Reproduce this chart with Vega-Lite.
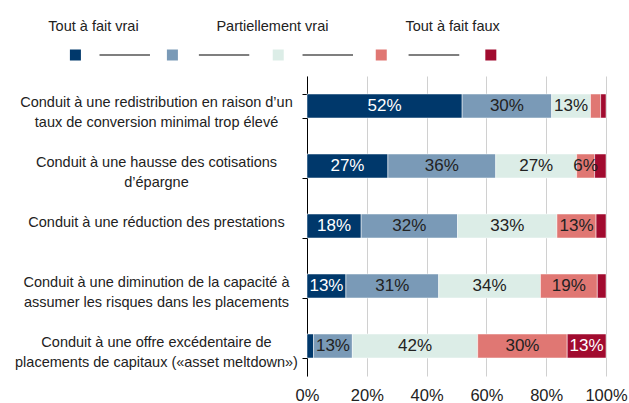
{
  "$schema": "https://vega.github.io/schema/vega-lite/v6.json",
  "padding": {"top": 19, "left": 14, "right": 2, "bottom": 0},
  "spacing": 3,
  "config": {"view": {"stroke": null}, "font": "Liberation Sans"},
  "vconcat": [
    {
      "width": 299,
      "height": 28,
      "layer": [
        {
          "data": {"values": [
            {"t": "Tout à fait vrai", "p": 1.174, "r": 1},
            {"t": "Partiellement vrai", "p": 2.897, "r": 1},
            {"t": "Tout à fait faux", "p": 4.632, "r": 1}
          ]},
          "mark": {"type": "text", "font": "Liberation Sans", "fontSize": 14.5, "fontWeight": "normal", "color": "#222", "baseline": "middle", "align": "center"},
          "encoding": {
            "x": {"field": "p", "type": "quantitative", "scale": {"domain": [3.23, 6.109], "nice": false, "zero": false}, "axis": null},
            "y": {"field": "r", "type": "quantitative", "scale": {"domain": [0, 1], "nice": false}, "axis": null},
            "text": {"field": "t"}
          }
        },
        {
          "data": {"values": [
            {"a": 1.232, "b": 1.718, "r": 0},
            {"a": 2.189, "b": 2.674, "r": 0},
            {"a": 3.187, "b": 3.673, "r": 0},
            {"a": 4.208, "b": 4.696, "r": 0}
          ]},
          "mark": {"type": "rule", "color": "#555555", "strokeWidth": 1.6},
          "encoding": {
            "x": {"field": "a", "type": "quantitative", "axis": null},
            "x2": {"field": "b"},
            "y": {"field": "r", "type": "quantitative", "axis": null}
          }
        },
        {
          "data": {"values": [
            {"k": 1, "p": 1.0, "r": 0},
            {"k": 2, "p": 1.934, "r": 0},
            {"k": 3, "p": 2.953, "r": 0},
            {"k": 4, "p": 3.945, "r": 0},
            {"k": 5, "p": 5.0, "r": 0}
          ]},
          "mark": {"type": "square", "size": 121, "filled": true, "opacity": 1},
          "encoding": {
            "x": {"field": "p", "type": "quantitative", "axis": null},
            "y": {"field": "r", "type": "quantitative", "axis": null},
            "color": {"field": "k", "type": "nominal", "scale": {"domain": [1, 2, 3, 4, 5], "range": ["#00386B", "#7A9AB7", "#DCEDE7", "#E07773", "#A10B2F"]}, "legend": null}
          }
        }
      ]
    },
    {
      "width": 299,
      "height": 300,
      "data": {"values": [
        {"q": "Conduit à une redistribution en raison d’un|taux de conversion minimal trop élevé", "k": 1, "v": 0.52},
        {"q": "Conduit à une redistribution en raison d’un|taux de conversion minimal trop élevé", "k": 2, "v": 0.30},
        {"q": "Conduit à une redistribution en raison d’un|taux de conversion minimal trop élevé", "k": 3, "v": 0.13},
        {"q": "Conduit à une redistribution en raison d’un|taux de conversion minimal trop élevé", "k": 4, "v": 0.034},
        {"q": "Conduit à une redistribution en raison d’un|taux de conversion minimal trop élevé", "k": 5, "v": 0.018},
        {"q": "Conduit à une hausse des cotisations|d’épargne", "k": 1, "v": 0.27},
        {"q": "Conduit à une hausse des cotisations|d’épargne", "k": 2, "v": 0.36},
        {"q": "Conduit à une hausse des cotisations|d’épargne", "k": 3, "v": 0.27},
        {"q": "Conduit à une hausse des cotisations|d’épargne", "k": 4, "v": 0.06},
        {"q": "Conduit à une hausse des cotisations|d’épargne", "k": 5, "v": 0.038},
        {"q": "Conduit à une réduction des prestations", "k": 1, "v": 0.18},
        {"q": "Conduit à une réduction des prestations", "k": 2, "v": 0.32},
        {"q": "Conduit à une réduction des prestations", "k": 3, "v": 0.33},
        {"q": "Conduit à une réduction des prestations", "k": 4, "v": 0.13},
        {"q": "Conduit à une réduction des prestations", "k": 5, "v": 0.033},
        {"q": "Conduit à une diminution de la capacité à|assumer les risques dans les placements", "k": 1, "v": 0.13},
        {"q": "Conduit à une diminution de la capacité à|assumer les risques dans les placements", "k": 2, "v": 0.31},
        {"q": "Conduit à une diminution de la capacité à|assumer les risques dans les placements", "k": 3, "v": 0.34},
        {"q": "Conduit à une diminution de la capacité à|assumer les risques dans les placements", "k": 4, "v": 0.19},
        {"q": "Conduit à une diminution de la capacité à|assumer les risques dans les placements", "k": 5, "v": 0.029},
        {"q": "Conduit à une offre excédentaire de|placements de capitaux («asset meltdown»)", "k": 1, "v": 0.022},
        {"q": "Conduit à une offre excédentaire de|placements de capitaux («asset meltdown»)", "k": 2, "v": 0.13},
        {"q": "Conduit à une offre excédentaire de|placements de capitaux («asset meltdown»)", "k": 3, "v": 0.42},
        {"q": "Conduit à une offre excédentaire de|placements de capitaux («asset meltdown»)", "k": 4, "v": 0.30},
        {"q": "Conduit à une offre excédentaire de|placements de capitaux («asset meltdown»)", "k": 5, "v": 0.13}
      ]},
      "encoding": {
        "y": {
          "field": "q", "type": "nominal", "sort": null,
          "scale": {"paddingInner": 0.6, "paddingOuter": 0.3},
          "axis": {
            "title": null,
            "grid": false,
            "domainColor": "#000000",
            "domainWidth": 1,
            "tickColor": "#000000",
            "tickSize": 5,
            "tickBand": "extent",
            "labelAlign": "center",
            "labelBaseline": "alphabetic",
            "labelFontSize": 14.5,
            "labelColor": "#222222",
            "labelLineHeight": 20,
            "labelLimit": 400,
            "labelExpr": "split(datum.label, '|')",
            "labelPadding": 146
          }
        }
      },
      "layer": [
        {
          "mark": {"type": "bar", "stroke": "white", "strokeWidth": 0.5},
          "encoding": {
            "x": {
              "field": "v", "type": "quantitative", "stack": "normalize",
              "scale": {"domain": [0, 1]},
              "axis": {
                "title": null,
                "values": [0, 0.2, 0.4, 0.6, 0.8, 1],
                "format": ".0%",
                "grid": true,
                "gridColor": "#d0d0d0",
                "domain": false,
                "ticks": false,
                "labelFontSize": 16.5,
                "labelColor": "#222222",
                "labelPadding": 11,
                "labelFlush": false
              }
            },
            "color": {"field": "k", "type": "nominal", "scale": {"domain": [1, 2, 3, 4, 5], "range": ["#00386B", "#7A9AB7", "#DCEDE7", "#E07773", "#A10B2F"]}, "legend": null},
            "order": {"field": "k", "type": "quantitative"}
          }
        },
        {
          "mark": {"type": "text", "fontSize": 17, "baseline": "middle", "align": "center"},
          "encoding": {
            "x": {"field": "v", "type": "quantitative", "stack": "normalize", "bandPosition": 0.5},
            "detail": {"field": "k", "type": "nominal"},
            "order": {"field": "k", "type": "quantitative"},
            "text": {"field": "v", "type": "quantitative", "format": ".0%", "condition": {"test": "datum.v < 0.05", "value": ""}},
            "color": {"condition": {"test": "datum.k == 1 || datum.k == 5", "value": "white"}, "value": "#222222"}
          }
        }
      ]
    }
  ]
}
